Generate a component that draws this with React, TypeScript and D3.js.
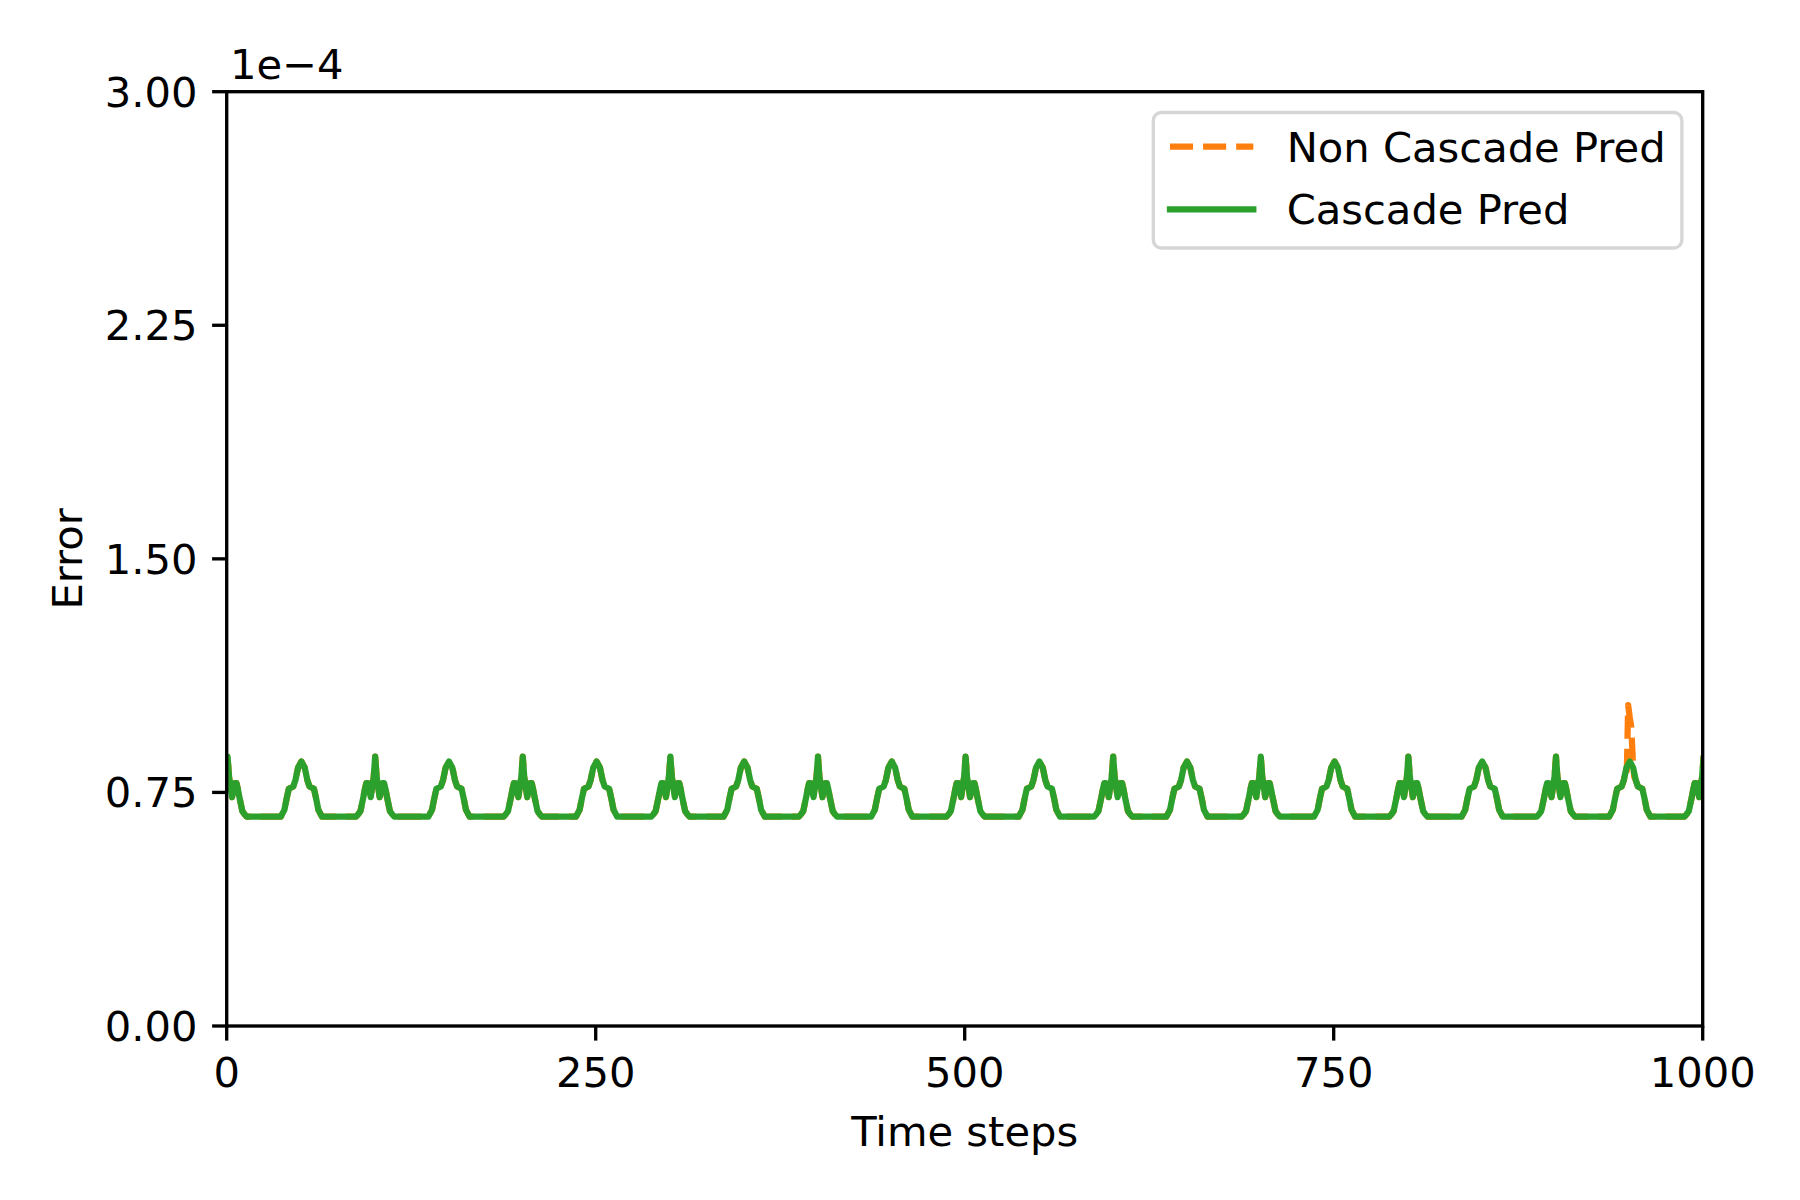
import React from 'react'
import * as d3 from 'd3'

// axis ticks
const xTickValues = [0, 250, 500, 750, 1000]
const yTickValues = [0, 0.75e-4, 1.5e-4, 2.25e-4, 3e-4]
const yTickLabels = ['0.00', '0.75', '1.50', '2.25', '3.00']

// the error curve is a row of bumps on a flat floor, one every 50 steps
const bumpCentres = [
  0.6, 50.6, 100.6, 150.6, 200.6, 250.6, 300.6, 350.6, 400.6, 450.6, 500.6,
  550.6, 600.6, 650.6, 700.6, 750.6, 800.6, 850.6, 900.6, 950.6, 1000.6
]
const bumpKinds = [
  'sharp', 'round', 'sharp', 'round', 'sharp', 'round', 'sharp', 'round', 'sharp', 'round', 'sharp',
  'round', 'sharp', 'round', 'sharp', 'round', 'sharp', 'round', 'sharp', 'round', 'sharp'
]

// shape of a "sharp" bump: offsets in steps, values in 1e-4
const sharpOffsets = [-13, -11.5, -10, -8, -7, -6, -5, -3, -1, 0, 1, 3, 5, 6, 7, 8, 10, 11.5, 13]
const sharpValues = [0.672, 0.68, 0.69, 0.735, 0.76, 0.78, 0.78, 0.735, 0.8, 0.865, 0.8, 0.735, 0.78, 0.78, 0.76, 0.735, 0.69, 0.68, 0.672]

// shape of a "round" bump
const roundOffsets = [-14, -11.5, -10, -8.5, -5.5, -4, -2.3, 0, 2.3, 4, 5.5, 8.5, 10, 11.5, 14]
const roundValues = [0.672, 0.694, 0.73, 0.762, 0.769, 0.79, 0.829, 0.849, 0.829, 0.79, 0.769, 0.762, 0.73, 0.694, 0.672]

// the non cascade run only leaves the cascade one near step 950
const spikeSteps = [948.6, 949.5, 950.6, 951.6, 952.6, 953.6]
const spikeValues = [0.82, 1.03, 0.99, 0.96, 0.86, 0.8]

const W = 1800
const H = 1200
const left = 226.7
const right = 1702.7
const top = 91.7
const bottom = 1026

const fontSize = 41.67
const lw = 6.25
const spineW = 3.33
const tickLen = 14.6

const orange = '#ff7f0e'
const green = '#2ca02c'

type Pt = [number, number]

const cascadePts: Pt[] = []
bumpCentres.forEach((c, i) => {
  const offs = bumpKinds[i] === 'sharp' ? sharpOffsets : roundOffsets
  const vals = bumpKinds[i] === 'sharp' ? sharpValues : roundValues
  offs.forEach((o, j) => cascadePts.push([c + o, vals[j] * 1e-4]))
})

const nonCascadePts: Pt[] = cascadePts
  .filter(p => p[0] < spikeSteps[0] || p[0] > spikeSteps[spikeSteps.length - 1])
  .concat(spikeSteps.map((s, i) => [s, spikeValues[i] * 1e-4] as Pt))
  .sort((a, b) => a[0] - b[0])

export default function App() {
  const x = d3.scaleLinear().domain([0, 1000]).range([left, right])
  const y = d3.scaleLinear().domain([0, 3e-4]).range([bottom, top])

  const line = d3.line<Pt>()
    .x(d => x(d[0]))
    .y(d => y(d[1]))

  const font = { fontFamily: 'DejaVu Sans', fontSize }

  // legend geometry, matplotlib style (in font-size units)
  const legRight = right - 0.5 * fontSize
  const legTop = top + 0.5 * fontSize
  const legLeft = 1153.3
  const legBottom = 248
  const handleX = legLeft + 0.4 * fontSize
  const handleLen = 2 * fontSize
  const textX = handleX + handleLen + 0.8 * fontSize

  return (
    <svg width={W} height={H} style={{ position: 'absolute', left: 0, top: 0, background: '#fff' }}>
      <defs>
        <clipPath id="plot">
          <rect x={left} y={top} width={right - left} height={bottom - top} />
        </clipPath>
      </defs>
      <rect width={W} height={H} fill="#fff" />

      <g clipPath="url(#plot)" fill="none" strokeWidth={lw} strokeLinejoin="round">
        <path d={line(nonCascadePts) || ''} stroke={orange} strokeDasharray="23.1 10" />
        <path d={line(cascadePts) || ''} stroke={green} strokeLinecap="square" />
      </g>

      {/* spines */}
      <rect x={left} y={top} width={right - left} height={bottom - top}
        fill="none" stroke="#000" strokeWidth={spineW} strokeLinejoin="miter" />

      {/* x axis */}
      {xTickValues.map(t => (
        <g key={'x' + t}>
          <line x1={x(t)} x2={x(t)} y1={bottom} y2={bottom + tickLen} stroke="#000" strokeWidth={spineW} />
          <text x={x(t)} y={1086.5} textAnchor="middle" style={font}>{t}</text>
        </g>
      ))}
      <text x={(left + right) / 2} y={1146} textAnchor="middle" style={font}>Time steps</text>

      {/* y axis */}
      {yTickValues.map((t, i) => (
        <g key={'y' + i}>
          <line x1={left - tickLen} x2={left} y1={y(t)} y2={y(t)} stroke="#000" strokeWidth={spineW} />
          <text x={left - 2 * tickLen} y={y(t) + 15} textAnchor="end" style={font}>{yTickLabels[i]}</text>
        </g>
      ))}
      <text transform={`translate(81.7, ${(top + bottom) / 2}) rotate(-90)`} textAnchor="middle" style={font}>Error</text>
      <text x={230} y={79} style={font}>1e{'\u2212'}4</text>

      {/* legend */}
      <g>
        <rect x={legLeft} y={legTop} width={legRight - legLeft} height={legBottom - legTop} rx={8} ry={8}
          fill="#fff" fillOpacity={0.8} stroke="#cccccc" strokeOpacity={0.8} strokeWidth={spineW} />
        <line x1={handleX} x2={handleX + handleLen} y1={146.7} y2={146.7} stroke={orange} strokeWidth={lw} strokeDasharray="23.1 10" />
        <text x={textX} y={161.7} style={font}>Non Cascade Pred</text>
        <line x1={handleX} x2={handleX + handleLen} y1={209.3} y2={209.3} stroke={green} strokeWidth={lw} strokeLinecap="square" />
        <text x={textX} y={224} style={font}>Cascade Pred</text>
      </g>
    </svg>
  )
}
